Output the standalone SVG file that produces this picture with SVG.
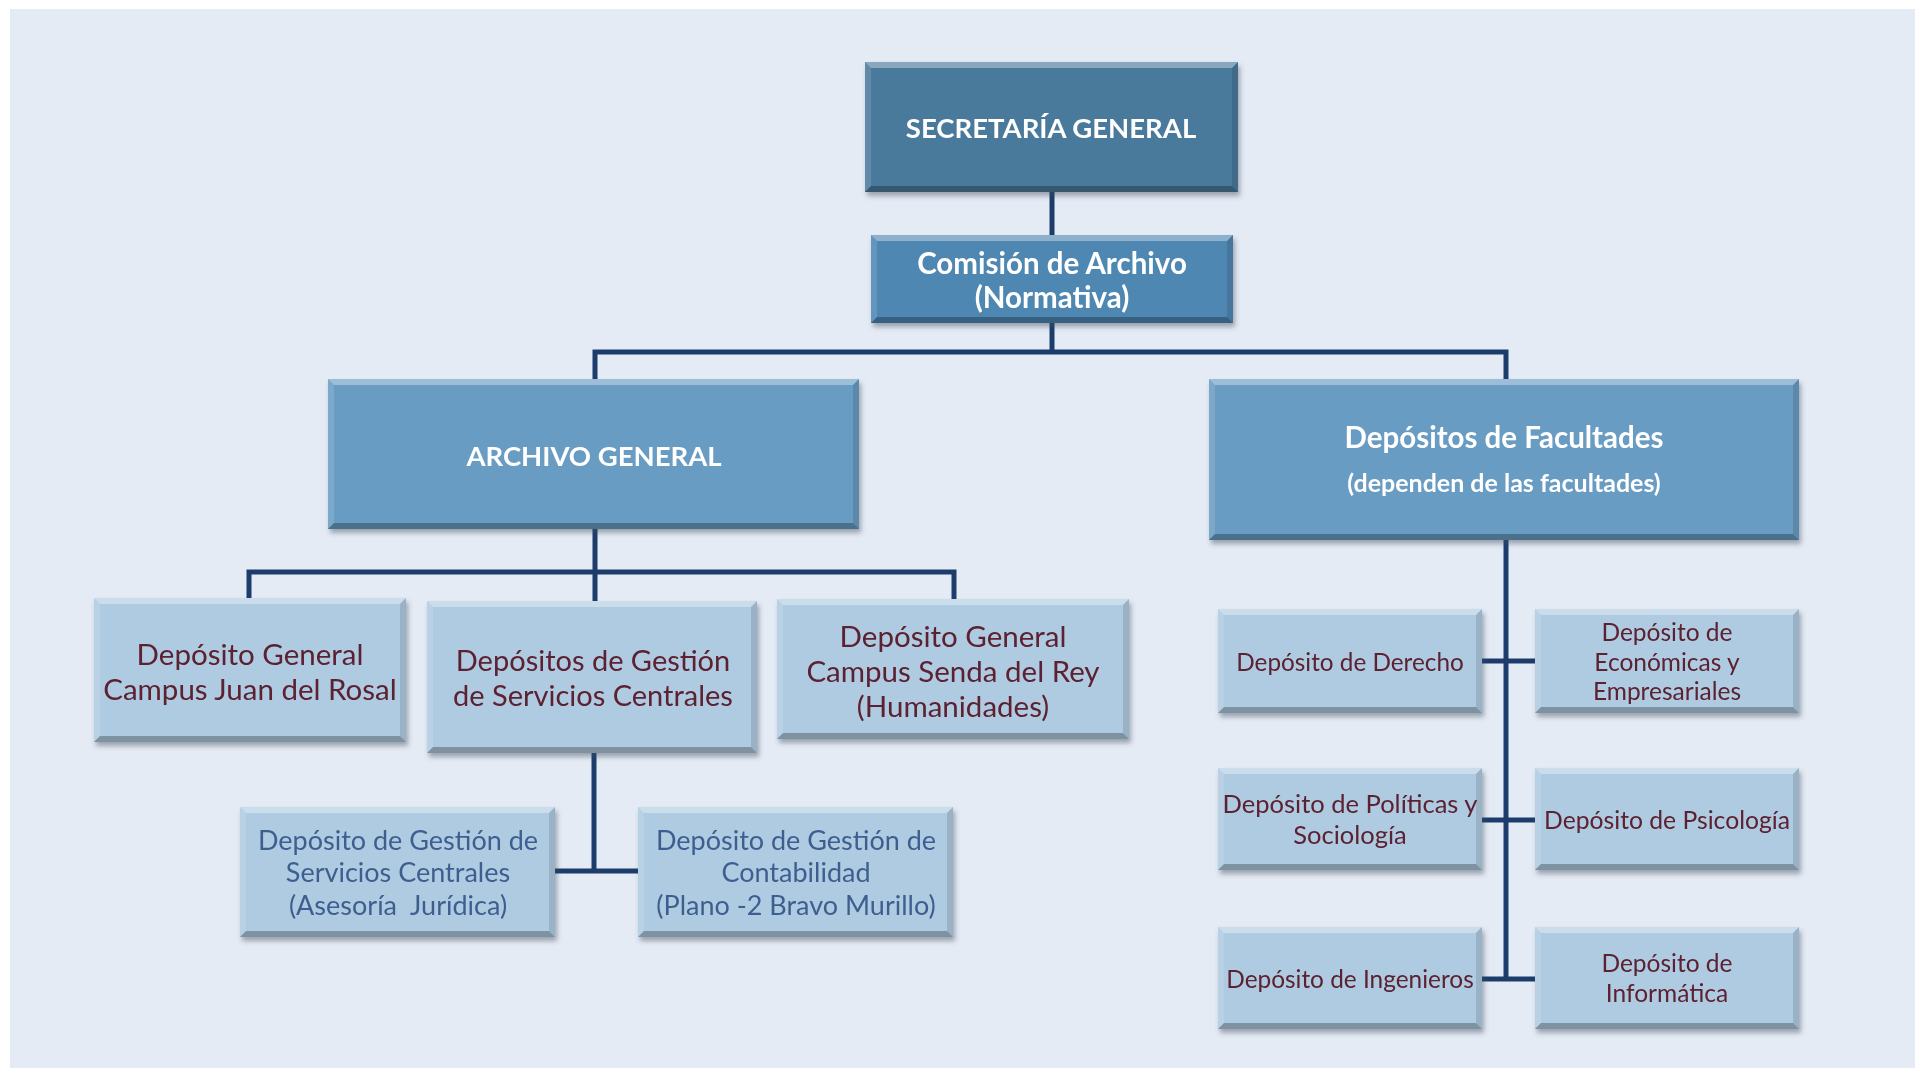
<svg xmlns="http://www.w3.org/2000/svg" width="1915" height="1068" viewBox="0 0 1915 1068">
<defs>
<filter id="sh" x="-5%" y="-10%" width="115%" height="130%">
<feDropShadow dx="2" dy="4" stdDeviation="2.5" flood-color="#3a4a5a" flood-opacity="0.45"/>
</filter>
<style>
.bg{fill:#E5EBF5}
.l1{fill:#4A7A9C}
.l2{fill:#5087B3}
.l3{fill:#699CC3}
.l4{fill:#AFCBE1}
.bt{fill:#ffffff;fill-opacity:0.35}
.bl{fill:#ffffff;fill-opacity:0.12}
.br{fill:#000000;fill-opacity:0.12}
.bb{fill:#000000;fill-opacity:0.28}
.conn{stroke:#1C3D6C;stroke-width:5;fill:none;stroke-linecap:square}
text{font-family:Lato,"Open Sans","Liberation Sans",sans-serif;text-anchor:middle;dominant-baseline:central}
.tw{fill:#ffffff;font-weight:bold}
.tm{fill:#5C2030}
.tb{fill:#3E5F90}
</style>
</defs>
<rect x="0" y="0" width="1915" height="1068" fill="#ffffff"/>
<rect class="bg" x="10" y="9" width="1905" height="1059"/>

<g id="connectors">
<path class="conn" d="M1052,192 V235 M1052,323 V352 M595,352 H1506 M595,352 V379 M1506,352 V379"/>
<path class="conn" d="M595,529 V572 M249,572 H954 M249,572 V598 M595,572 V601 M954,572 V599"/>
<path class="conn" d="M594,753 V871 M555,871 H638"/>
<path class="conn" d="M1506,540 V979 M1482,661 H1535 M1482,820 H1535 M1482,979 H1535"/>
</g>

<g id="secretaria" filter="url(#sh)">
<rect class="l1" x="865" y="62" width="373" height="130"/>
<polygon class="bt" points="865,62 1238,62 1232,68 871,68"/>
<polygon class="bl" points="865,62 871,68 871,186 865,192"/>
<polygon class="br" points="1238,62 1232,68 1232,186 1238,192"/>
<polygon class="bb" points="865,192 1238,192 1232,186 871,186"/>
<text class="tw" x="1051" y="127" font-size="27.5">SECRETARÍA GENERAL</text>
</g>

<g id="comision" filter="url(#sh)">
<rect class="l2" x="871" y="235" width="362" height="88"/>
<polygon class="bt" points="871,235 1233,235 1227,241 877,241"/>
<polygon class="bl" points="871,235 877,241 877,317 871,323"/>
<polygon class="br" points="1233,235 1227,241 1227,317 1233,323"/>
<polygon class="bb" points="871,323 1233,323 1227,317 877,317"/>
<text class="tw" x="1052" y="262" font-size="29.5">Comisión de Archivo</text>
<text class="tw" x="1052" y="296" font-size="29.5">(Normativa)</text>
</g>

<g id="archivo-general" filter="url(#sh)">
<rect class="l3" x="328" y="379" width="531" height="150"/>
<polygon class="bt" points="328,379 859,379 853,385 334,385"/>
<polygon class="bl" points="328,379 334,385 334,523 328,529"/>
<polygon class="br" points="859,379 853,385 853,523 859,529"/>
<polygon class="bb" points="328,529 859,529 853,523 334,523"/>
<text class="tw" x="594" y="455" font-size="27.5">ARCHIVO GENERAL</text>
</g>

<g id="depositos-facultades" filter="url(#sh)">
<rect class="l3" x="1209" y="379" width="590" height="161"/>
<polygon class="bt" points="1209,379 1799,379 1793,385 1215,385"/>
<polygon class="bl" points="1209,379 1215,385 1215,534 1209,540"/>
<polygon class="br" points="1799,379 1793,385 1793,534 1799,540"/>
<polygon class="bb" points="1209,540 1799,540 1793,534 1215,534"/>
<text class="tw" x="1504" y="436" font-size="29.5">Depósitos de Facultades</text>
<text class="tw" x="1504" y="482" font-size="25">(dependen de las facultades)</text>
</g>

<g id="juan-del-rosal" filter="url(#sh)">
<rect class="l4" x="94" y="598" width="312" height="144"/>
<polygon class="bt" points="94,598 406,598 400,604 100,604"/>
<polygon class="bl" points="94,598 100,604 100,736 94,742"/>
<polygon class="br" points="406,598 400,604 400,736 406,742"/>
<polygon class="bb" points="94,742 406,742 400,736 100,736"/>
<text class="tm" x="250" y="653" font-size="29.5">Depósito General</text>
<text class="tm" x="250" y="688" font-size="29.5">Campus Juan del Rosal</text>
</g>

<g id="gestion-servicios" filter="url(#sh)">
<rect class="l4" x="427" y="601" width="330" height="152"/>
<polygon class="bt" points="427,601 757,601 751,607 433,607"/>
<polygon class="bl" points="427,601 433,607 433,747 427,753"/>
<polygon class="br" points="757,601 751,607 751,747 757,753"/>
<polygon class="bb" points="427,753 757,753 751,747 433,747"/>
<text class="tm" x="593" y="659" font-size="29">Depósitos de Gestión</text>
<text class="tm" x="593" y="694" font-size="29">de Servicios Centrales</text>
</g>

<g id="senda-del-rey" filter="url(#sh)">
<rect class="l4" x="777" y="599" width="352" height="140"/>
<polygon class="bt" points="777,599 1129,599 1123,605 783,605"/>
<polygon class="bl" points="777,599 783,605 783,733 777,739"/>
<polygon class="br" points="1129,599 1123,605 1123,733 1129,739"/>
<polygon class="bb" points="777,739 1129,739 1123,733 783,733"/>
<text class="tm" x="953" y="635" font-size="29.5">Depósito General</text>
<text class="tm" x="953" y="670" font-size="29.5">Campus Senda del Rey</text>
<text class="tm" x="953" y="705" font-size="29.5">(Humanidades)</text>
</g>

<g id="asesoria-juridica" filter="url(#sh)">
<rect class="l4" x="240" y="807" width="315" height="130"/>
<polygon class="bt" points="240,807 555,807 549,813 246,813"/>
<polygon class="bl" points="240,807 246,813 246,931 240,937"/>
<polygon class="br" points="555,807 549,813 549,931 555,937"/>
<polygon class="bb" points="240,937 555,937 549,931 246,931"/>
<text class="tb" x="398" y="839" font-size="27">Depósito de Gestión de</text>
<text class="tb" x="398" y="871" font-size="27">Servicios Centrales</text>
<text class="tb" x="398" y="904" font-size="27" xml:space="preserve">(Asesoría  Jurídica)</text>
</g>

<g id="contabilidad" filter="url(#sh)">
<rect class="l4" x="638" y="807" width="315" height="130"/>
<polygon class="bt" points="638,807 953,807 947,813 644,813"/>
<polygon class="bl" points="638,807 644,813 644,931 638,937"/>
<polygon class="br" points="953,807 947,813 947,931 953,937"/>
<polygon class="bb" points="638,937 953,937 947,931 644,931"/>
<text class="tb" x="796" y="839" font-size="27">Depósito de Gestión de</text>
<text class="tb" x="796" y="871" font-size="27">Contabilidad</text>
<text class="tb" x="796" y="904" font-size="27">(Plano -2 Bravo Murillo)</text>
</g>

<g id="derecho" filter="url(#sh)">
<rect class="l4" x="1218" y="609" width="264" height="104"/>
<polygon class="bt" points="1218,609 1482,609 1476,615 1224,615"/>
<polygon class="bl" points="1218,609 1224,615 1224,707 1218,713"/>
<polygon class="br" points="1482,609 1476,615 1476,707 1482,713"/>
<polygon class="bb" points="1218,713 1482,713 1476,707 1224,707"/>
<text class="tm" x="1350" y="661" font-size="24.3">Depósito de Derecho</text>
</g>

<g id="economicas" filter="url(#sh)">
<rect class="l4" x="1535" y="609" width="264" height="104"/>
<polygon class="bt" points="1535,609 1799,609 1793,615 1541,615"/>
<polygon class="bl" points="1535,609 1541,615 1541,707 1535,713"/>
<polygon class="br" points="1799,609 1793,615 1793,707 1799,713"/>
<polygon class="bb" points="1535,713 1799,713 1793,707 1541,707"/>
<text class="tm" x="1667" y="631" font-size="24.5">Depósito de</text>
<text class="tm" x="1667" y="661" font-size="24.5">Económicas y</text>
<text class="tm" x="1667" y="690" font-size="24.5">Empresariales</text>
</g>

<g id="politicas" filter="url(#sh)">
<rect class="l4" x="1218" y="768" width="264" height="102"/>
<polygon class="bt" points="1218,768 1482,768 1476,774 1224,774"/>
<polygon class="bl" points="1218,768 1224,774 1224,864 1218,870"/>
<polygon class="br" points="1482,768 1476,774 1476,864 1482,870"/>
<polygon class="bb" points="1218,870 1482,870 1476,864 1224,864"/>
<text class="tm" x="1350" y="803" font-size="25.5">Depósito de Políticas y</text>
<text class="tm" x="1350" y="834" font-size="25.5">Sociología</text>
</g>

<g id="psicologia" filter="url(#sh)">
<rect class="l4" x="1535" y="768" width="264" height="102"/>
<polygon class="bt" points="1535,768 1799,768 1793,774 1541,774"/>
<polygon class="bl" points="1535,768 1541,774 1541,864 1535,870"/>
<polygon class="br" points="1799,768 1793,774 1793,864 1799,870"/>
<polygon class="bb" points="1535,870 1799,870 1793,864 1541,864"/>
<text class="tm" x="1667" y="819" font-size="24.7">Depósito de Psicología</text>
</g>

<g id="ingenieros" filter="url(#sh)">
<rect class="l4" x="1218" y="927" width="264" height="102"/>
<polygon class="bt" points="1218,927 1482,927 1476,933 1224,933"/>
<polygon class="bl" points="1218,927 1224,933 1224,1023 1218,1029"/>
<polygon class="br" points="1482,927 1476,933 1476,1023 1482,1029"/>
<polygon class="bb" points="1218,1029 1482,1029 1476,1023 1224,1023"/>
<text class="tm" x="1350" y="978" font-size="24.4">Depósito de Ingenieros</text>
</g>

<g id="informatica" filter="url(#sh)">
<rect class="l4" x="1535" y="927" width="264" height="102"/>
<polygon class="bt" points="1535,927 1799,927 1793,933 1541,933"/>
<polygon class="bl" points="1535,927 1541,933 1541,1023 1535,1029"/>
<polygon class="br" points="1799,927 1793,933 1793,1023 1799,1029"/>
<polygon class="bb" points="1535,1029 1799,1029 1793,1023 1541,1023"/>
<text class="tm" x="1667" y="962" font-size="24.5">Depósito de</text>
<text class="tm" x="1667" y="992" font-size="24.5">Informática</text>
</g>
</svg>
